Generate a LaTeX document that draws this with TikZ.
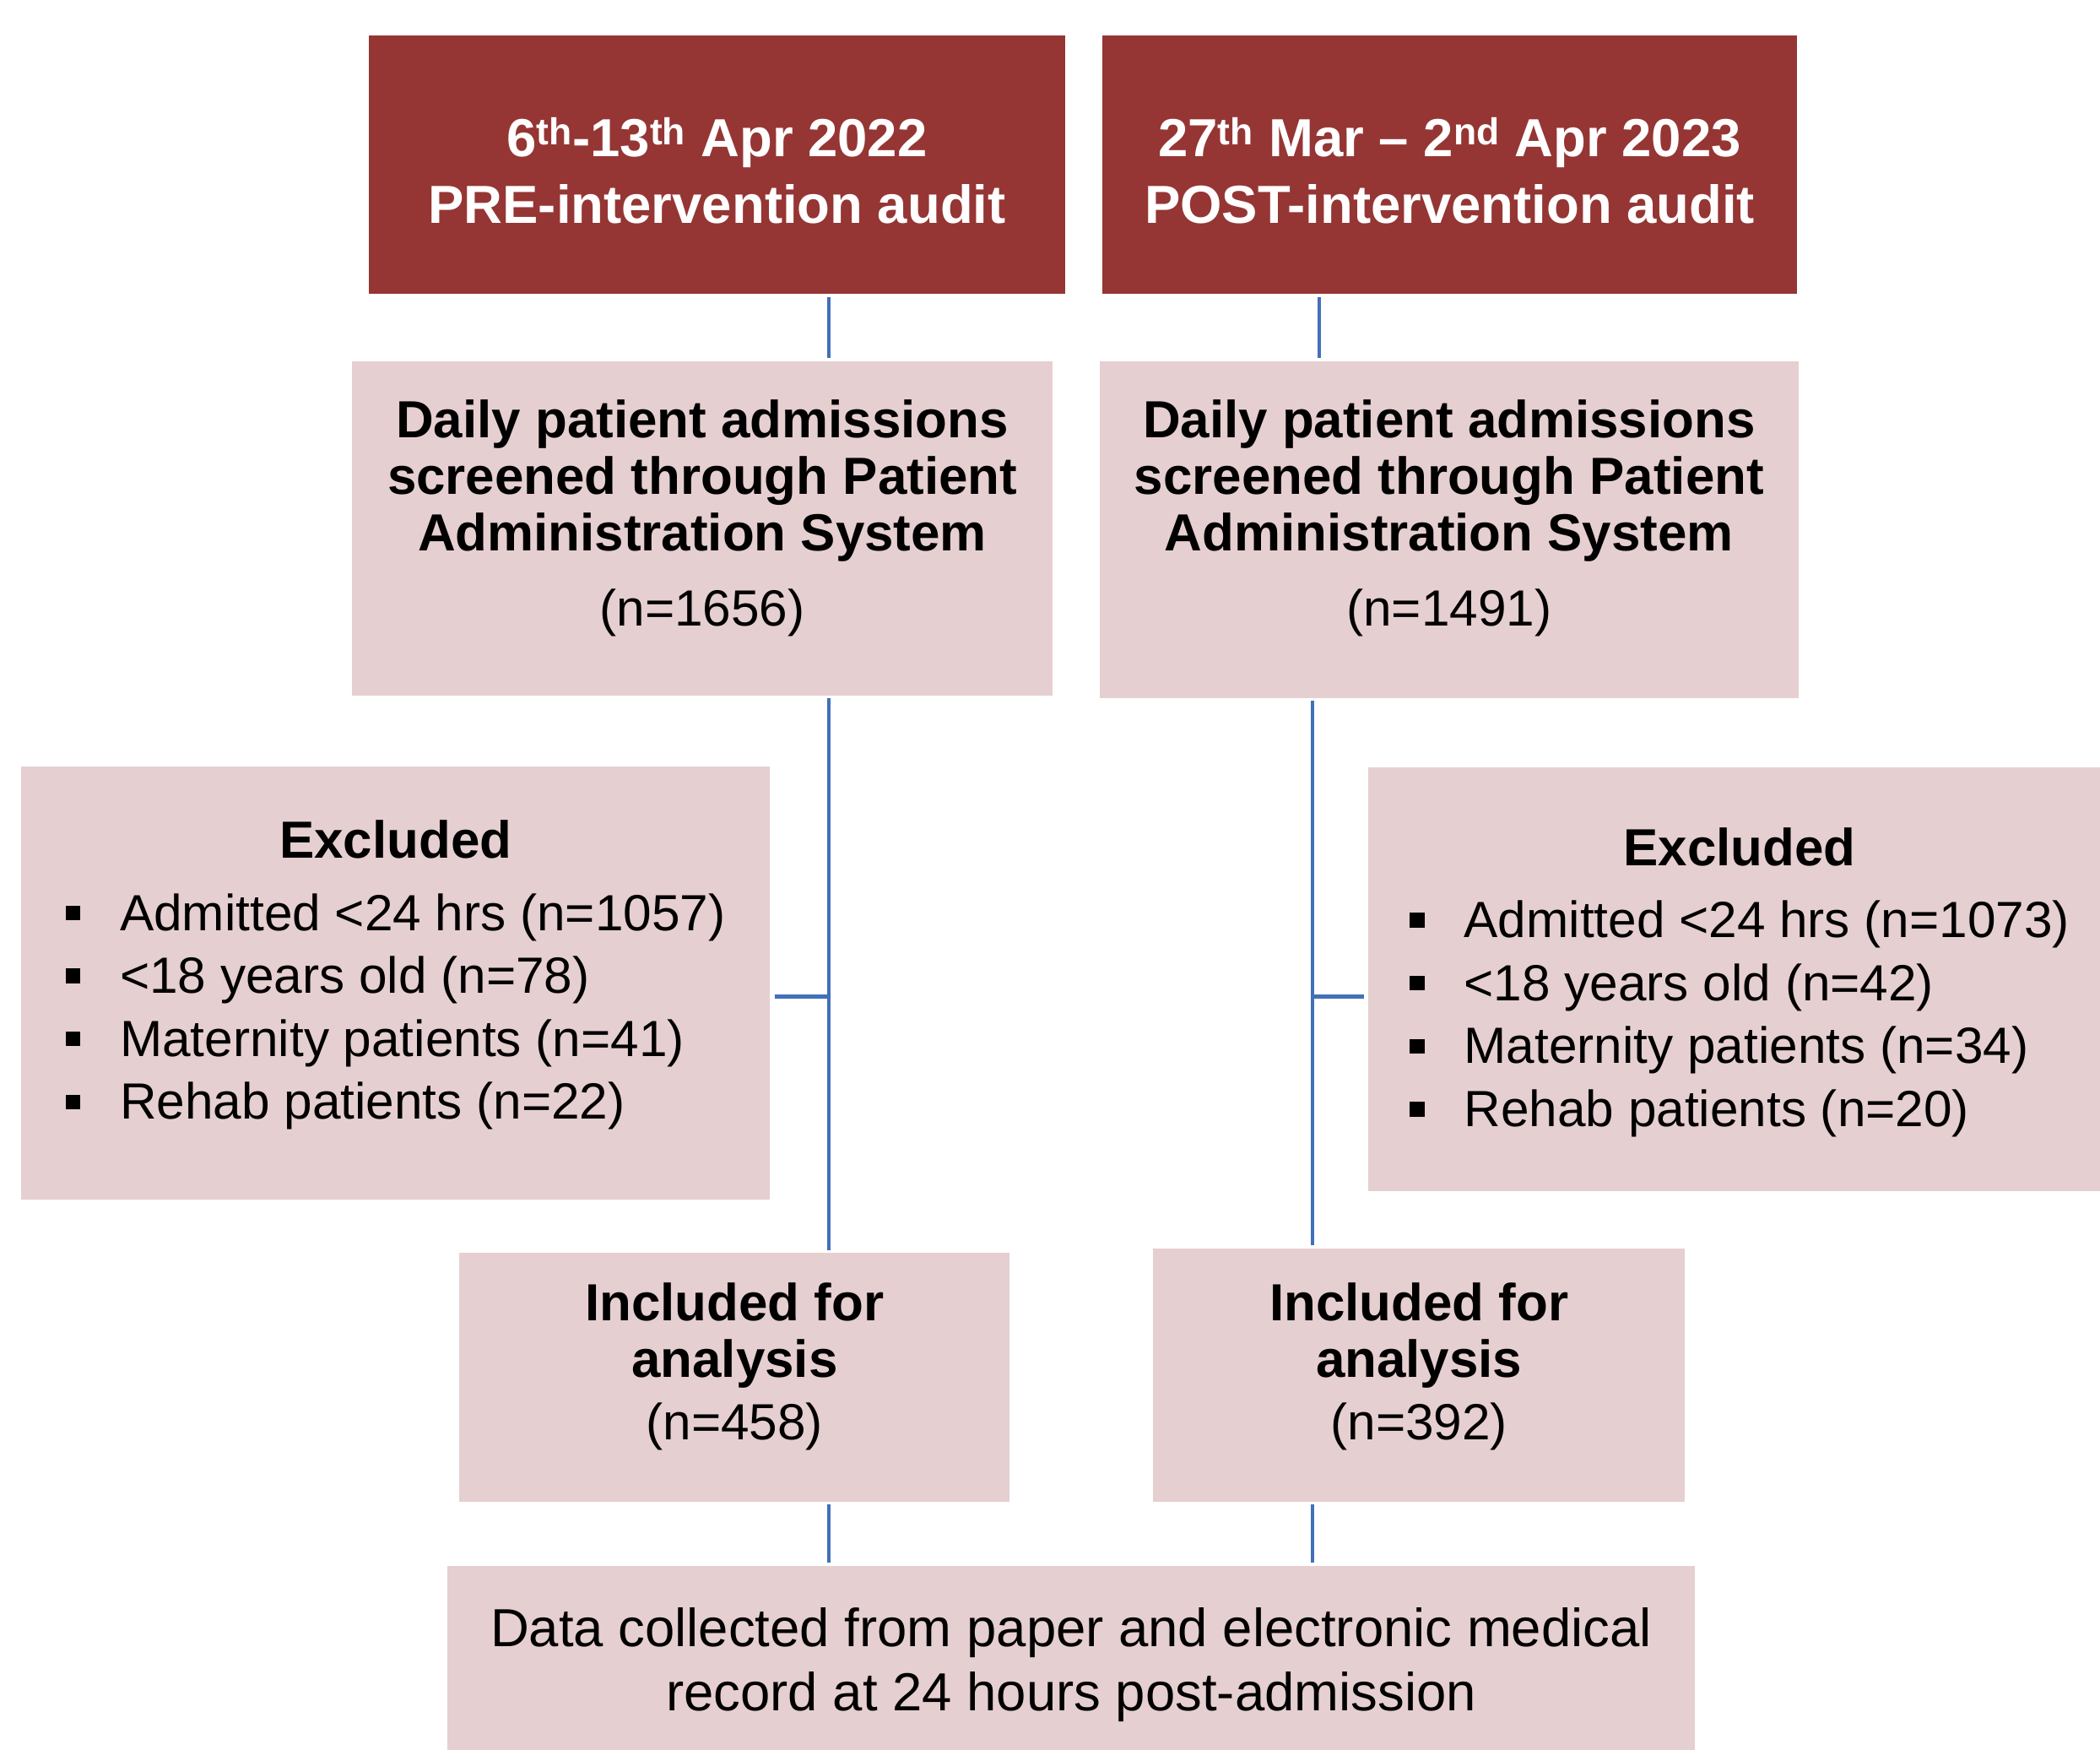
\documentclass[tikz,border=0pt]{standalone}
\usepackage{fontspec}
\setmainfont{Liberation Sans}
\usetikzlibrary{positioning}
\definecolor{auditred}{RGB}{149,54,52}
\definecolor{auditpink}{RGB}{230,207,208}
\definecolor{linkblue}{RGB}{66,112,185}
\tikzset{head/.style={fill=auditred,text=white,inner sep=0pt,align=center,text depth=0pt,font=\fontsize{40}{50}\selectfont\bfseries}}
\tikzset{box/.style={fill=auditpink,inner sep=0pt,align=center,text depth=0pt,font=\fontsize{39}{42}\selectfont}}
\tikzset{link/.style={draw=linkblue,line width=2.6pt,shorten <=2pt,shorten >=2pt}}
\newcommand{\bul}{\rule[7.5pt]{11pt}{11pt}}
\newcommand{\nsize}{\fontsize{38}{42}\selectfont}
\newcommand{\lsize}{\fontsize{38}{47}\selectfont}

\begin{document}
\begin{tikzpicture}[x=1pt,y=-1pt]
  \useasboundingbox (0,0) rectangle (1568,1306);
  % audit periods
  \node[head,minimum width=520pt,minimum height=192.7pt,text height=88pt] (preHead) at (535.4,123)
    {6\textsuperscript{th}-13\textsuperscript{th} Apr 2022\\PRE-intervention audit};
  \node[head,minimum width=519pt,minimum height=192.7pt,text height=88pt] (postHead) at (1082.5,123)
    {27\textsuperscript{th} Mar -- 2\textsuperscript{nd} Apr 2023\\POST-intervention audit};
  % screened
  \node[box,minimum width=523pt,minimum height=249.5pt,text height=145.4pt] (preScreen) at (524.4,394.3)
    {\bfseries Daily patient admissions\\\bfseries screened through Patient\\\bfseries Administration System\\[14pt]\nsize (n=1656)};
  \node[box,minimum width=522pt,minimum height=251.5pt,text height=143.4pt] (postScreen) at (1082,395.3)
    {\bfseries Daily patient admissions\\\bfseries screened through Patient\\\bfseries Administration System\\[14pt]\nsize (n=1491)};
  % excluded
  \node[box,minimum width=559.3pt,minimum height=323.6pt,text height=203.6pt] (preExcl) at (295.4,733.8)
    {\lsize\begin{tabular}[b]{@{}c@{\hspace{29.5pt}}l@{}}
      \multicolumn{2}{c}{\fontsize{39}{47}\selectfont\bfseries Excluded}\\[7pt]
      \bul & Admitted <24 hrs (n=1057)\\
      \bul & <18 years old (n=78)\\
      \bul & Maternity patients (n=41)\\
      \bul & Rehab patients (n=22)
    \end{tabular}};
  \node[box,minimum width=555pt,minimum height=316pt,text height=220pt] (postExcl) at (1299,731)
    {\lsize\begin{tabular}[b]{@{}c@{\hspace{29.5pt}}l@{}}
      \multicolumn{2}{c}{\fontsize{39}{47}\selectfont\bfseries Excluded}\\[7pt]
      \bul & Admitted <24 hrs (n=1073)\\
      \bul & <18 years old (n=42)\\
      \bul & Maternity patients (n=34)\\
      \bul & Rehab patients (n=20)
    \end{tabular}};
  % included
  \node[box,minimum width=411pt,minimum height=185.5pt,text height=93.4pt] (preIncl) at (548.5,1028.3)
    {\bfseries Included for\\\bfseries analysis\\[5pt]\nsize (n=458)};
  \node[box,minimum width=397pt,minimum height=189pt,text height=97pt] (postIncl) at (1059.5,1026.5)
    {\bfseries Included for\\\bfseries analysis\\[5pt]\nsize (n=392)};
  % data collection
  \node[box,minimum width=931.6pt,minimum height=148pt,text height=68pt] (collect) at (799.8,1243)
    {\fontsize{40}{47.5}\selectfont\begin{tabular}[b]{@{}c@{}}
      Data collected from paper and electronic medical\\
      record at 24 hours post-admission
    \end{tabular}};
  % connectors
  \coordinate (preSpine) at (619,0);
  \coordinate (postSpine) at (980,0);
  \coordinate (postTop) at (985,0);
  \coordinate (preTick) at (619,744);
  \coordinate (postTick) at (980,744);
  \draw[link] (preHead.south -| preSpine) -- (preScreen.north -| preSpine);
  \draw[link] (postHead.south -| postTop) -- (postScreen.north -| postTop);
  \draw[link] (preScreen.south -| preSpine) -- (preIncl.north -| preSpine);
  \draw[link] (postScreen.south -| postSpine) -- (postIncl.north -| postSpine);
  \draw[link,shorten <=3pt,shorten >=0pt] (preExcl.east |- preTick) -- (preTick);
  \draw[link,shorten <=0pt,shorten >=3pt] (postTick) -- (postExcl.west |- postTick);
  \draw[link] (preIncl.south -| preSpine) -- (collect.north -| preSpine);
  \draw[link] (postIncl.south -| postSpine) -- (collect.north -| postSpine);
\end{tikzpicture}
\end{document}
